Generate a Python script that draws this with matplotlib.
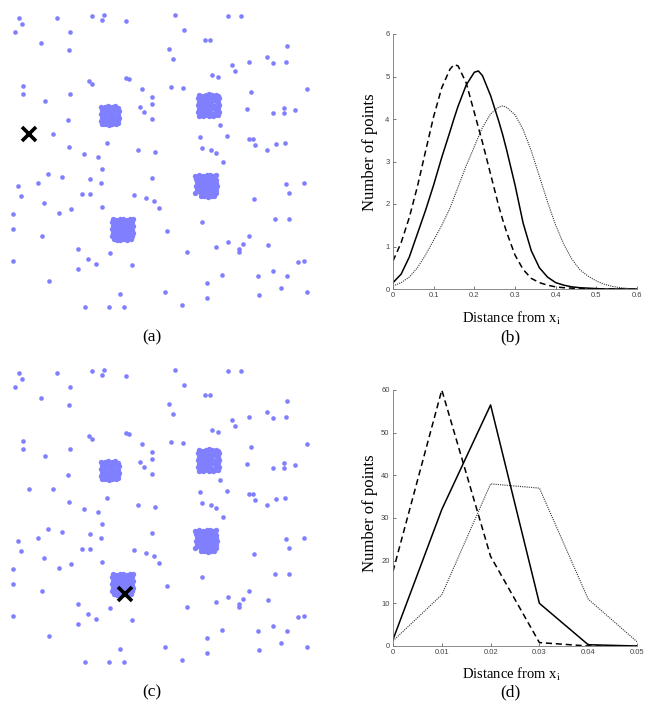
import matplotlib.pyplot as plt

plt.rcParams['mathtext.fontset'] = 'stix'

# scatter data in pixel units (y grows downwards)
pts_x = [19, 22, 15, 57, 70, 41, 69, 92, 104, 102, 126, 175, 184, 228, 241, 205, 210, 169, 173, 287,
         267, 273, 286, 249, 232, 235, 212, 218, 89, 92, 126, 129, 23, 23, 70, 45, 142, 171, 183, 251,
         152, 152, 140, 144, 152, 68, 247, 273, 284, 284, 295, 220, 53, 200, 227, 249, 253, 255, 276, 285,
         267, 69, 107, 84, 98, 138, 155, 202, 211, 216, 29, 307,
         102, 48, 62, 38, 18, 21, 90, 101, 82, 90, 44, 13, 59, 71, 102, 152, 134, 146, 154, 159,
         223, 13, 42, 167, 202, 286, 289, 254, 275, 289, 78, 88, 96, 78, 110, 132, 13, 49, 187, 216,
         228, 239, 239, 243, 249, 268, 298, 222, 207, 258, 273, 287, 281, 259, 120, 165, 207, 182, 85, 109,
         124, 304, 304, 307]
pts_y = [18, 24, 32, 18, 32, 43, 50, 16, 15, 20, 21, 15, 30, 16, 16, 40, 40, 49, 59, 46,
         57, 63, 62, 62, 65, 71, 75, 77, 81, 84, 78, 79, 86, 94, 94, 101, 89, 87, 88, 92,
         97, 104, 107, 112, 119, 120, 109, 113, 108, 113, 110, 125, 134, 137, 136, 139, 139, 145, 144, 143,
         150, 147, 143, 154, 157, 150, 152, 148, 150, 153, 134, 89,
         169, 174, 177, 183, 186, 196, 179, 183, 194, 194, 203, 214, 213, 209, 207, 178, 195, 198, 201, 208,
         162, 229, 236, 231, 222, 184, 193, 199, 219, 219, 249, 259, 264, 269, 253, 265, 261, 281, 252, 247,
         242, 249, 252, 244, 236, 245, 262, 275, 283, 276, 271, 276, 288, 295, 294, 292, 298, 305, 307, 307,
         307, 183, 261, 292]

# the four dense groups
c1_x = [101, 105, 108, 112, 115, 118, 102, 104, 108, 111, 115, 119, 101, 105, 107, 111, 114, 118,
        102, 104, 108, 112, 115, 119, 101, 105, 108, 111, 114, 118, 102, 105, 109, 112, 116, 118]
c1_y = [107, 107, 106, 107, 106, 108, 110, 111, 110, 111, 110, 111, 114, 114, 113, 114, 114, 115,
        118, 117, 118, 117, 118, 118, 121, 121, 120, 121, 121, 120, 124, 124, 125, 124, 124, 123]
c2_x = [199, 203, 206, 209, 212, 216, 218, 198, 201, 205, 208, 212, 215, 219,
        199, 202, 205, 209, 211, 216, 218, 198, 201, 204, 208, 212, 215, 219,
        199, 202, 205, 209, 212, 215, 218, 198, 202, 206, 208, 211, 216, 219,
        199, 203, 205, 209, 213, 215, 218]
c2_y = [95, 96, 95, 94, 95, 95, 96, 98, 99, 98, 99, 98, 99, 98,
        102, 101, 102, 103, 102, 101, 102, 105, 106, 105, 106, 105, 106, 105,
        109, 108, 109, 109, 108, 109, 108, 112, 113, 112, 112, 113, 112, 112,
        116, 116, 115, 116, 116, 115, 115]
c3_x = [195, 199, 203, 207, 210, 213, 216, 196, 200, 203, 206, 210, 213, 216,
        197, 200, 204, 207, 210, 214, 216, 196, 200, 203, 206, 210, 213, 217,
        197, 201, 204, 207, 211, 214, 216, 195, 200, 203, 206, 209, 213, 216,
        201, 204, 208, 211, 214]
c3_y = [176, 175, 176, 175, 175, 176, 175, 179, 179, 180, 179, 178, 179, 180,
        182, 183, 182, 183, 182, 182, 183, 186, 186, 185, 186, 186, 185, 186,
        189, 190, 189, 189, 190, 189, 190, 193, 192, 193, 193, 192, 193, 193,
        196, 196, 197, 196, 196]
c4_x = [113, 116, 120, 123, 127, 130, 133, 112, 115, 119, 122, 126, 129, 132,
        113, 116, 120, 123, 126, 130, 133, 112, 115, 119, 122, 126, 129, 132,
        113, 116, 119, 123, 126, 130, 133, 112, 115, 120, 123, 127, 129, 132,
        114, 117, 120, 124, 127, 131]
c4_y = [219, 220, 219, 219, 220, 219, 219, 222, 223, 223, 222, 222, 223, 222,
        226, 226, 225, 226, 226, 225, 226, 229, 230, 229, 229, 230, 229, 230,
        233, 232, 233, 233, 232, 233, 233, 236, 236, 237, 236, 236, 237, 236,
        239, 240, 240, 239, 240, 239]

xi_a = (29, 134)
xi_c = (125, 239)

# panel (b)
b_x = [0, 0.02, 0.04, 0.06, 0.08, 0.10, 0.12, 0.14, 0.15, 0.16, 0.18, 0.20, 0.21, 0.22, 0.24, 0.26,
       0.27, 0.28, 0.30, 0.32, 0.34, 0.36, 0.38, 0.40, 0.42, 0.44, 0.46, 0.48, 0.50, 0.52, 0.54,
       0.56, 0.58, 0.60]
b_dash = [0.66, 1.09, 1.68, 2.41, 3.24, 4.06, 4.74, 5.17, 5.28, 5.25, 4.85, 4.15, 3.80, 3.45, 2.70, 1.95,
          1.62, 1.32, 0.80, 0.46, 0.25, 0.15, 0.09, 0.05, 0.03, 0.02, 0.01, 0.005, 0, 0, 0,
          0, 0, 0]
b_solid = [0.15, 0.35, 0.75, 1.30, 1.85, 2.45, 3.10, 3.70, 4.01, 4.30, 4.80, 5.10, 5.13, 5.02, 4.55, 3.95,
           3.62, 3.25, 2.45, 1.55, 0.90, 0.50, 0.28, 0.15, 0.09, 0.05, 0.03, 0.02, 0.01, 0, 0,
           0, 0, 0]
b_dot = [0.07, 0.15, 0.28, 0.50, 0.80, 1.15, 1.50, 1.90, 2.15, 2.40, 2.90, 3.35, 3.58, 3.80, 4.12, 4.28,
         4.31, 4.27, 4.10, 3.75, 3.25, 2.65, 2.05, 1.50, 1.05, 0.70, 0.45, 0.30, 0.19, 0.11, 0.06,
         0.03, 0.01, 0.0]

# panel (d)
d_x = [0, 0.01, 0.02, 0.03, 0.04, 0.05]
d_dash = [17.5, 60, 21, 0.8, 0, 0]
d_solid = [1.5, 32, 56.5, 10, 0.3, 0]
d_dot = [1.2, 12, 38, 37, 11, 1]

W, H = 656, 714
fig = plt.figure(figsize=(6.56, 7.14), dpi=100)


def box(x0, y0, x1, y1):
    return [x0 / W, 1 - y1 / H, (x1 - x0) / W, (y1 - y0) / H]


def scatter_panel(top, xi):
    ax = fig.add_axes(box(0, top, 320, top + 320))
    ax.set_xlim(0, 320)
    ax.set_ylim(320, 0)
    ax.axis('off')
    ax.scatter(pts_x, pts_y, s=11, color='#8080ff', linewidths=0)
    for xs, ys in [(c1_x, c1_y), (c2_x, c2_y), (c3_x, c3_y), (c4_x, c4_y)]:
        ax.scatter(xs, ys, s=15, color='#8080ff', linewidths=0)
    ax.plot(xi[0], xi[1], 'x', color='k', markersize=10, markeredgewidth=2.6)


def line_panel(top, bottom, x, dash, solid, dot, xmax, ymax, xticks, yticks):
    ax = fig.add_axes(box(393, top, 637, bottom))
    ax.plot(x, dash, color='k', lw=1.1, dashes=(4, 2.5))
    ax.plot(x, solid, color='k', lw=1.1)
    ax.plot(x, dot, color='#333333', lw=0.8, dashes=(1, 1))
    ax.set_xlim(0, xmax)
    ax.set_ylim(0, ymax)
    ax.set_xticks(xticks)
    ax.set_xticklabels([('%g' % t) for t in xticks])
    ax.set_yticks(yticks)
    for s in ['top', 'right']:
        ax.spines[s].set_visible(False)
    for s in ['left', 'bottom']:
        ax.spines[s].set_color('#777777')
        ax.spines[s].set_linewidth(0.6)
    ax.tick_params(direction='in', length=2.5, width=0.5, labelsize=5.5,
                   colors='#444444', pad=2.5)
    for lab in ax.get_xticklabels() + ax.get_yticklabels():
        lab.set_family('Liberation Sans')
    return ax


scatter_panel(0, xi_a)
scatter_panel(355, xi_c)

line_panel(34, 289, b_x, b_dash, b_solid, b_dot, 0.6, 6,
           [0, 0.1, 0.2, 0.3, 0.4, 0.5, 0.6], [0, 1, 2, 3, 4, 5, 6])
line_panel(390, 646, d_x, d_dash, d_solid, d_dot, 0.05, 60,
           [0, 0.01, 0.02, 0.03, 0.04, 0.05], [0, 10, 20, 30, 40, 50, 60])

serif = 'Liberation Serif'
for py in [152, 513]:
    fig.text(370 / W, 1 - py / H, 'Number of points', rotation=90, ha='center', va='center',
             family=serif, fontsize=12)
for py in [318, 674]:
    fig.text(512 / W, 1 - py / H, 'Distance from x$_\\mathrm{i}$', ha='center', va='center',
             family=serif, fontsize=10.5)
for lab, px, py in [('(a)', 152, 337), ('(b)', 510, 337), ('(c)', 152, 692), ('(d)', 510, 692)]:
    fig.text(px / W, 1 - py / H, lab, ha='center', va='center', family=serif, fontsize=12.5)

fig.savefig('out.png', dpi=100)
